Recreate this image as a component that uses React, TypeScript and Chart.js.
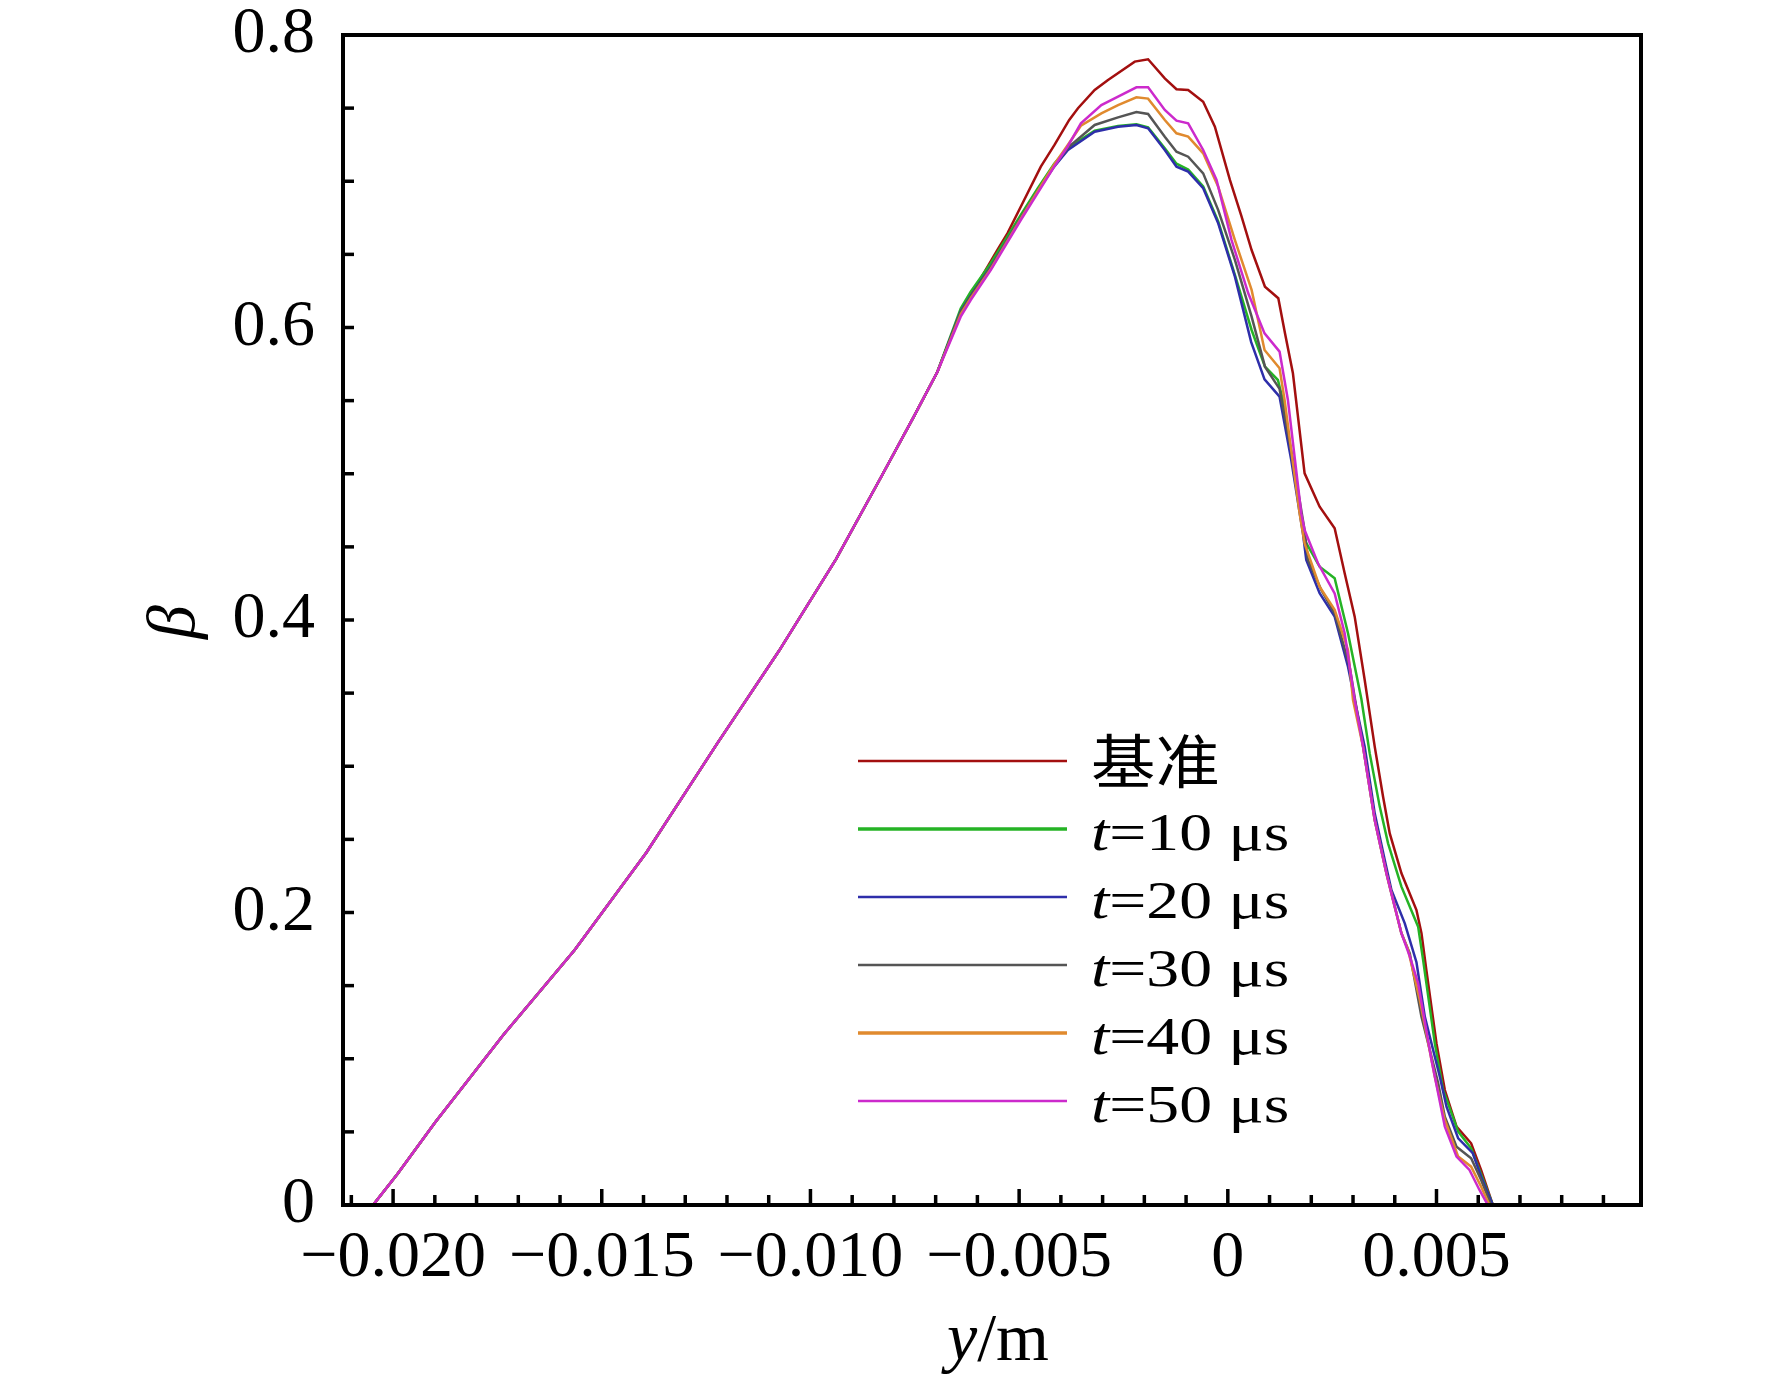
import React, { useEffect, useRef } from 'react';
import { Chart, registerables } from 'chart.js';

Chart.register(...registerables);

// shared rising branch (all six curves lie on top of each other here)
const riseX = [-0.02048, -0.0199, -0.01899, -0.01736, -0.01565, -0.01393, -0.01222, -0.01076, -0.00939, -0.00831, -0.00752, -0.00696];
const riseY = [0, 0.021, 0.0566, 0.1162, 0.1744, 0.241, 0.3162, 0.3786, 0.4415, 0.4976, 0.5392, 0.5696];

// 基准
const refX = [-0.0064, -0.00616, -0.00552, -0.00528, -0.00488, -0.00448, -0.00416, -0.0038, -0.00359, -0.00319, -0.00287, -0.00223, -0.00191, -0.00151, -0.00123, -0.00095, -0.00059, -0.00031, 0.00005, 0.00033, 0.00057, 0.00089, 0.00121, 0.00137, 0.00156, 0.00184, 0.0022, 0.00256, 0.0028, 0.00304, 0.00328, 0.00352, 0.00372, 0.00388, 0.00416, 0.00452, 0.00464, 0.00476, 0.005, 0.0052, 0.00548, 0.00583, 0.00607, 0.00635];
const refY = [0.61, 0.622, 0.653, 0.6644, 0.6872, 0.71, 0.7245, 0.7419, 0.7499, 0.7624, 0.7692, 0.7818, 0.7834, 0.7704, 0.7629, 0.7624, 0.7544, 0.7373, 0.7009, 0.6758, 0.653, 0.6279, 0.62, 0.596, 0.5687, 0.5003, 0.4775, 0.4627, 0.4319, 0.4023, 0.359, 0.3134, 0.2792, 0.2541, 0.2268, 0.2017, 0.1858, 0.16, 0.1105, 0.0786, 0.0536, 0.0422, 0.0239, 0];

// t = 10 μs
const t10X = [-0.0064, -0.00616, -0.00568, -0.00544, -0.00496, -0.00456, -0.00416, -0.00383, -0.00319, -0.00263, -0.00219, -0.00191, -0.00151, -0.00123, -0.00095, -0.00059, -0.00023, 0.00017, 0.00057, 0.00089, 0.0012, 0.00132, 0.00176, 0.00184, 0.0022, 0.00256, 0.00288, 0.0032, 0.0034, 0.00364, 0.00384, 0.00416, 0.00456, 0.00468, 0.00496, 0.00516, 0.00552, 0.00583, 0.00635];
const t10Y = [0.613, 0.6245, 0.644, 0.655, 0.677, 0.695, 0.712, 0.723, 0.7345, 0.7378, 0.739, 0.7368, 0.7225, 0.712, 0.708, 0.6965, 0.6725, 0.636, 0.5983, 0.5732, 0.5641, 0.5504, 0.4684, 0.4547, 0.4365, 0.4285, 0.3909, 0.346, 0.3088, 0.2724, 0.2473, 0.2177, 0.1903, 0.1675, 0.1105, 0.0786, 0.0502, 0.0388, 0];

// t = 20 μs
const t20X = [-0.0064, -0.00616, -0.00568, -0.00544, -0.00496, -0.00456, -0.00416, -0.00383, -0.00319, -0.00263, -0.00219, -0.00191, -0.00151, -0.00123, -0.00095, -0.00059, -0.00023, 0.00017, 0.00056, 0.00088, 0.00124, 0.00152, 0.0018, 0.00188, 0.0022, 0.00256, 0.00288, 0.00304, 0.00328, 0.00352, 0.00376, 0.00392, 0.00424, 0.00452, 0.00472, 0.00508, 0.00524, 0.00552, 0.00587, 0.00607, 0.00635];
const t20Y = [0.611, 0.6215, 0.6415, 0.6525, 0.675, 0.693, 0.71, 0.7214, 0.7339, 0.7373, 0.7385, 0.7362, 0.7214, 0.71, 0.7066, 0.6952, 0.6712, 0.6348, 0.59, 0.5645, 0.5527, 0.5094, 0.4593, 0.441, 0.4183, 0.4023, 0.3681, 0.3453, 0.3134, 0.2678, 0.2359, 0.2154, 0.1926, 0.166, 0.1288, 0.0877, 0.0672, 0.0456, 0.0354, 0.0194, 0];

// t = 30 μs
const t30X = [-0.0064, -0.00616, -0.00568, -0.00544, -0.00496, -0.00456, -0.00416, -0.00383, -0.00319, -0.00263, -0.00219, -0.00191, -0.00151, -0.00123, -0.00095, -0.00059, -0.00023, 0.00017, 0.00057, 0.00089, 0.00124, 0.00156, 0.00184, 0.00192, 0.00224, 0.00256, 0.00292, 0.00305, 0.00324, 0.00352, 0.0038, 0.00392, 0.00416, 0.00436, 0.00464, 0.00504, 0.0052, 0.00548, 0.00583, 0.00607, 0.00631];
const t30Y = [0.6105, 0.621, 0.641, 0.652, 0.6745, 0.693, 0.711, 0.723, 0.7385, 0.7437, 0.7474, 0.746, 0.7305, 0.7202, 0.7168, 0.7054, 0.6803, 0.6462, 0.6074, 0.5732, 0.558, 0.5094, 0.4615, 0.441, 0.4205, 0.4046, 0.3681, 0.3453, 0.3134, 0.2633, 0.2268, 0.2131, 0.1858, 0.172, 0.1288, 0.0832, 0.0604, 0.0399, 0.0319, 0.0171, 0];

// t = 40 μs
const t40X = [-0.0064, -0.00616, -0.00568, -0.00544, -0.00496, -0.00456, -0.00416, -0.00383, -0.00352, -0.00303, -0.00263, -0.00219, -0.00191, -0.00151, -0.00123, -0.00095, -0.00059, -0.00023, 0.00017, 0.00057, 0.00088, 0.00124, 0.00136, 0.00172, 0.00184, 0.0022, 0.00256, 0.00288, 0.003, 0.00324, 0.00352, 0.0038, 0.00392, 0.00416, 0.00432, 0.0046, 0.00496, 0.0052, 0.00552, 0.00583, 0.00607, 0.00627];
const t40Y = [0.609, 0.62, 0.64, 0.6515, 0.6745, 0.693, 0.7115, 0.725, 0.738, 0.7464, 0.7521, 0.7574, 0.7565, 0.7419, 0.7328, 0.7305, 0.7191, 0.6963, 0.6598, 0.6257, 0.5846, 0.5721, 0.5504, 0.4729, 0.4524, 0.4228, 0.4069, 0.3795, 0.3453, 0.3134, 0.2633, 0.2268, 0.2131, 0.1858, 0.1744, 0.1402, 0.0877, 0.0581, 0.0331, 0.0262, 0.0125, 0];

// t = 50 μs
const t50X = [-0.0064, -0.00616, -0.00568, -0.00544, -0.00496, -0.00456, -0.00416, -0.00384, -0.00352, -0.00303, -0.00263, -0.00219, -0.00191, -0.00151, -0.00123, -0.00095, -0.00059, -0.00027, 0.00009, 0.00049, 0.00088, 0.00124, 0.00144, 0.00176, 0.00184, 0.00216, 0.00256, 0.0028, 0.00304, 0.00324, 0.00352, 0.0038, 0.00392, 0.00416, 0.00436, 0.00456, 0.00488, 0.0052, 0.00548, 0.00579, 0.00603, 0.00623];
const t50Y = [0.6074, 0.6188, 0.6393, 0.6507, 0.6735, 0.6917, 0.71, 0.7236, 0.7396, 0.7521, 0.7578, 0.7642, 0.7642, 0.7487, 0.7414, 0.7396, 0.7214, 0.7009, 0.6598, 0.6234, 0.596, 0.5835, 0.5504, 0.4729, 0.4615, 0.4388, 0.4182, 0.3909, 0.3453, 0.3134, 0.2633, 0.2268, 0.2131, 0.1858, 0.17, 0.1516, 0.0991, 0.0536, 0.0331, 0.024, 0.0103, 0];

const labels = ['基准', 't=10 μs', 't=20 μs', 't=30 μs', 't=40 μs', 't=50 μs'];
const colors = ['#a30f0f', '#25b325', '#2e2eaa', '#555555', '#e08a2e', '#cc2acc'];
const tails: [number[], number[]][] = [[refX, refY], [t10X, t10Y], [t20X, t20Y], [t30X, t30Y], [t40X, t40Y], [t50X, t50Y]];

const X_MIN = -0.0212;
const X_MAX = 0.0099;

const SERIF = '"Liberation Serif", "Times New Roman", serif';

const toPoints = (xs: number[], ys: number[]) =>
    [...riseX, ...xs].map((x, i) => ({ x, y: [...riseY, ...ys][i] }));

const xLabel = (v: number) => {
    const k = Math.round(v * 1000);
    if (k % 5 !== 0) return '';
    if (k === 0) return '0';
    return (k < 0 ? '\u2212' : '') + (Math.abs(k) / 1000).toFixed(3);
};

const yLabel = (v: number) => {
    const k = Math.round(v * 100);
    if (k % 20 !== 0) return '';
    if (k === 0) return '0';
    return (k / 100).toFixed(1);
};

// frame, inward ticks, axis titles and the legend
const framePlugin = {
    id: 'frame',
    afterDatasetsDraw(chart: any) {
        const { ctx, chartArea: a, scales } = chart;
        ctx.save();
        ctx.strokeStyle = '#000';
        ctx.lineCap = 'butt';

        // ticks
        ctx.lineWidth = 3.5;
        scales.x.ticks.forEach((t: any) => {
            const px = scales.x.getPixelForValue(t.value);
            const major = Math.round(t.value * 1000) % 5 === 0;
            ctx.beginPath();
            ctx.moveTo(px, a.bottom);
            ctx.lineTo(px, a.bottom - (major ? 16 : 10));
            ctx.stroke();
        });
        scales.y.ticks.forEach((t: any) => {
            const py = scales.y.getPixelForValue(t.value);
            ctx.beginPath();
            ctx.moveTo(a.left, py);
            ctx.lineTo(a.left + 11, py);
            ctx.stroke();
        });

        // box
        ctx.lineWidth = 4;
        ctx.strokeRect(a.left, a.top, a.right - a.left, a.bottom - a.top);

        // axis titles
        ctx.fillStyle = '#000';
        ctx.save();
        ctx.translate(176, 622);
        ctx.rotate(-Math.PI / 2);
        ctx.font = `italic 68px ${SERIF}`;
        ctx.textAlign = 'center';
        ctx.textBaseline = 'middle';
        ctx.fillText('β', 0, 0);
        ctx.restore();

        ctx.textBaseline = 'alphabetic';
        ctx.textAlign = 'left';
        ctx.font = `italic 68px ${SERIF}`;
        const wy = ctx.measureText('y').width;
        ctx.font = `68px ${SERIF}`;
        const wm = ctx.measureText('/m').width;
        const x0 = 998 - (wy + wm) / 2;
        ctx.font = `italic 68px ${SERIF}`;
        ctx.fillText('y', x0, 1360);
        ctx.font = `68px ${SERIF}`;
        ctx.fillText('/m', x0 + wy, 1360);

        // legend
        labels.forEach((lab, i) => {
            const ly = 761 + 68 * i;
            ctx.strokeStyle = colors[i];
            ctx.lineWidth = i === 1 || i === 4 ? 3.5 : 2.5;
            ctx.beginPath();
            ctx.moveTo(858, ly);
            ctx.lineTo(1067, ly);
            ctx.stroke();

            ctx.fillStyle = '#000';
            ctx.save();
            ctx.translate(1091, ly);
            if (lab.startsWith('t=')) {
                ctx.scale(1.24, 1);
                ctx.textBaseline = 'alphabetic';
                ctx.font = `italic 53px ${SERIF}`;
                ctx.fillText('t', 0, 21);
                const wt = ctx.measureText('t').width;
                ctx.font = `53px ${SERIF}`;
                ctx.fillText(lab.slice(1), wt, 21);
            } else {
                ctx.scale(1.11, 1);
                ctx.textBaseline = 'middle';
                ctx.font = '58px "Noto Sans CJK SC", sans-serif';
                ctx.fillText(lab, 0, 0);
            }
            ctx.restore();
        });

        ctx.restore();
    },
};

const App: React.FC = () => {
    const canvasRef = useRef<HTMLCanvasElement>(null);

    useEffect(() => {
        document.body.style.margin = '0';
        if (!canvasRef.current) return;

        const chart = new Chart(canvasRef.current, {
            type: 'line',
            data: {
                datasets: tails.map(([xs, ys], i) => ({
                    label: labels[i],
                    data: toPoints(xs, ys),
                    borderColor: colors[i],
                    borderWidth: 2.5,
                    pointRadius: 0,
                    tension: 0,
                    fill: false,
                    order: 6 - i, // 基准 underneath, t=50 μs on top
                })),
            },
            options: {
                animation: false,
                responsive: true,
                maintainAspectRatio: false,
                devicePixelRatio: 1,
                layout: { padding: { top: 35, right: 131, left: 0, bottom: 0 } },
                plugins: {
                    legend: { display: false },
                    tooltip: { enabled: false },
                },
                scales: {
                    x: {
                        type: 'linear',
                        min: X_MIN,
                        max: X_MAX,
                        grid: { display: false, drawTicks: false },
                        border: { display: false },
                        afterFit: (s: any) => {
                            s.height = 171;
                            s.paddingLeft = 0;
                            s.paddingRight = 0;
                        },
                        ticks: {
                            stepSize: 0.001,
                            includeBounds: false,
                            autoSkip: false,
                            maxRotation: 0,
                            padding: 21,
                            color: '#000',
                            font: { family: SERIF, size: 66, lineHeight: 1 },
                            callback: (v: any) => xLabel(Number(v)),
                        },
                    },
                    y: {
                        type: 'linear',
                        min: 0,
                        max: 0.8,
                        grid: { display: false, drawTicks: false },
                        border: { display: false },
                        afterFit: (s: any) => {
                            s.width = 343;
                            s.paddingTop = 0;
                            s.paddingBottom = 0;
                        },
                        ticks: {
                            stepSize: 0.05,
                            autoSkip: false,
                            padding: 28,
                            color: '#000',
                            font: { family: SERIF, size: 66, lineHeight: 1 },
                            callback: (v: any) => yLabel(Number(v)),
                        },
                    },
                },
            },
            plugins: [framePlugin],
        });

        return () => chart.destroy();
    }, []);

    return (
        <div style={{ width: 1772, height: 1376, background: '#fff' }}>
            <canvas ref={canvasRef} />
        </div>
    );
};

export default App;
